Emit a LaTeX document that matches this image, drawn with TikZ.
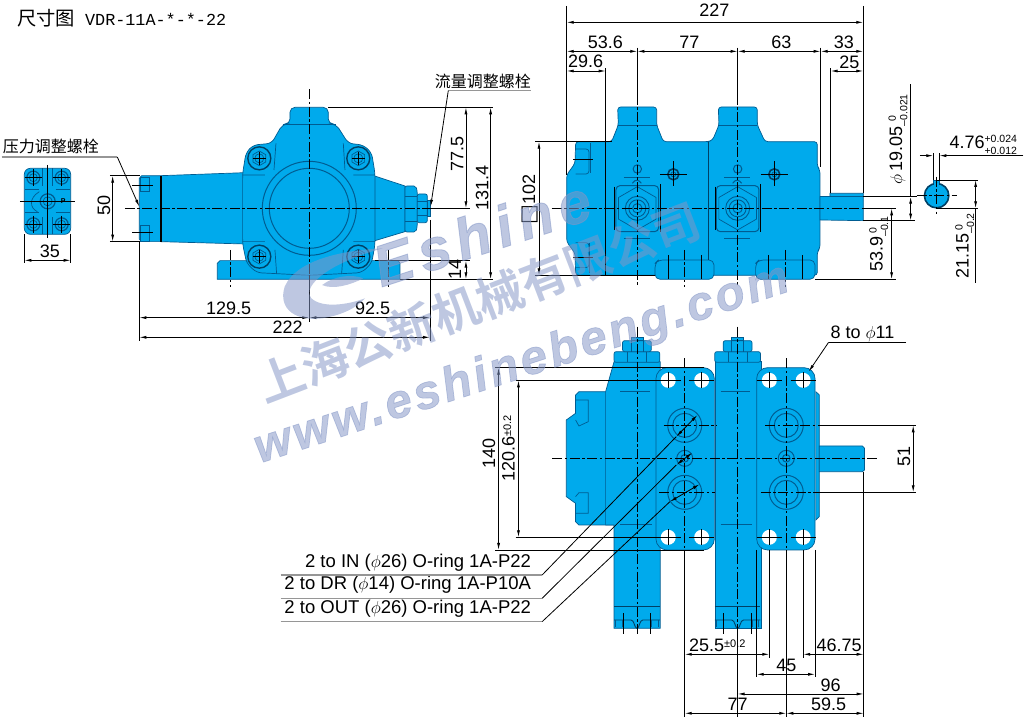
\documentclass[tikz,border=0pt]{standalone}
\usepackage{fontspec}
\setmainfont{Liberation Sans}
\setmonofont{Liberation Mono}
\newfontfamily\cjk{Noto Sans CJK SC}
\newfontfamily\cjkbold{Noto Sans CJK SC Bold}
\newfontfamily\boxglyph{DejaVu Sans}
\usetikzlibrary{arrows.meta}
\usetikzlibrary{calc}
\definecolor{pumpblue}{RGB}{0,170,236}
\definecolor{pumpedge}{RGB}{0,92,145}
\definecolor{leadgray}{RGB}{150,150,150}
\definecolor{stampblue}{RGB}{132,150,198}
\newcommand{\sizedim}{\fontsize{18}{18}\selectfont}
\newcommand{\tolpair}[2]{{\fontsize{10.5}{11.5}\selectfont\begin{tabular}{@{}l@{}}#1\\#2\end{tabular}}}
\newcommand{\tolone}[1]{\raisebox{3.5pt}{\fontsize{11}{11}\selectfont #1}}
\newcommand{\hexnut}[3]{\draw[detail] ($(#1,#2)+(30:#3)$) \foreach \a in {90,150,...,330} {-- ($(#1,#2)+(\a:#3)$)} -- cycle;}
\tikzset{
    >={Latex[length=7pt,width=3pt]},
    pumpbody/.style={fill=pumpblue,draw=pumpedge,line width=.7pt},
    detail/.style={draw=pumpedge,line width=.7pt},
    darkline/.style={draw=pumpedge!70!black,line width=1.1pt},
    extline/.style={black,line width=.8pt},
    dimline/.style={extline,<->},
    centerline/.style={black,line width=.8pt,dash pattern=on 10pt off 2.5pt on 2.5pt off 2.5pt},
    leadline/.style={leadgray,line width=1.3pt},
    dimtext/.style={font=\sizedim,inner sep=0pt},
    porttext/.style={font=\fontsize{18.5}{18.5}\selectfont,inner sep=0pt,anchor=east},
    cntext/.style={font=\fontsize{16}{16}\cjk,inner sep=0pt},
    sideview/.style={x=.3333pt,y=-.3333pt,yshift=-60pt},
    endview/.style={x=.3333pt,y=-.3333pt,xshift=520pt},
    portview/.style={x=.42308pt,y=-.3333pt,xshift=268pt,yshift=-320pt},
    stampview/.style={x=.35714pt,y=-.3333pt,xshift=240pt,yshift=-170pt,opacity=.53}
}
\begin{document}
\begin{tikzpicture}
    \useasboundingbox (0,0) rectangle (1026pt,-720pt);
    \node[anchor=base west,inner sep=0pt] (title) at (17pt,-25pt)
        {\fontsize{19.3}{19.3}\cjk 尺寸图\hspace{10pt}\fontsize{16.8}{16.8}\ttfamily VDR-11A-*-*-22};

    % side view with the two screws
    \begin{scope}[sideview]
        % small end view
        \draw[pumpbody,rounded corners=6pt] (73,325) rectangle (212,523);
        \foreach \bx/\by in {100/353,185/353,100/493,185/493} {
            \draw[detail,line width=1.2pt] (\bx,\by) circle (6.5pt);
            \draw[detail] (\bx,\by) circle (4pt);
            \draw[black,line width=.5pt] (\bx-26,\by) -- (\bx+26,\by) (\bx,\by-26) -- (\bx,\by+26);
        }
        \draw[detail] (75,388) -- (118,388) (167,388) -- (210,388) (75,458) -- (118,458) (167,458) -- (210,458);
        \draw[detail] (128,325) -- (128,378) (158,325) -- (158,378) (128,523) -- (128,470) (158,523) -- (158,470);
        \draw[detail,line width=1.2pt] (143,424) circle (7.5pt);
        \draw[detail] (143,424) circle (4.5pt);
        \draw[detail] (118,395) .. controls (85,415) and (90,445) .. (112,455);
        \node[inner sep=0pt,font=\fontsize{7}{7}\selectfont\bfseries] (portP) at (190,422) {P};
        \draw[extline] (60,424) -- (225,424) (143,315) -- (143,535);
        \draw[extline] (73,523) -- (73,610) (212,523) -- (212,610);
        \draw[dimline] (73,601) -- (212,601);
        \node[dimtext] (dimEnd) at (150,575) {35};

        % pump body
        \draw[pumpbody] (652,658) -- (652,610) -- (660,602) -- (1195,602) -- (1200,610) -- (1200,658) -- cycle;
        \draw[pumpbody] (425,347) -- (483,347) -- (735,338) -- (735,552) -- (483,545) -- (425,545) -- (418,538) -- (418,355) -- cycle;
        \draw[pumpbody] (1115,345) -- (1215,378) -- (1215,515) -- (1115,545) -- cycle;
        \draw[pumpbody,rounded corners=2pt] (1215,378) -- (1248,378) -- (1252,395) -- (1252,498) -- (1248,516) -- (1215,516) -- cycle;
        \draw[pumpbody,rounded corners=2pt] (1252,402) rectangle (1282,488);
        \draw[pumpbody] (1282,420) rectangle (1292,470);
        \draw[detail] (1215,410) -- (1252,410) (1215,485) -- (1252,485) (1252,425) -- (1282,425) (1252,465) -- (1282,465);
        \draw[pumpbody,rounded corners=5pt] (815,250) -- (848,192) -- (870,192) -- (870,142) -- (985,142) -- (985,192) -- (1008,192) -- (1045,250) -- (1090,255) -- (1115,278)
            -- (1125,340) -- (1125,555) -- (1115,610) -- (1085,638) -- (928,646) -- (770,638) -- (740,610) -- (728,552) -- (728,340) -- (738,278) -- (760,255) -- cycle;
        \draw[detail] (828,250) -- (822,330) (1030,250) -- (1035,330) (728,345) -- (795,345) (1060,345) -- (1125,345) (728,545) -- (795,545) (1060,545) -- (1125,545) (825,570) -- (830,642) (1030,570) -- (1025,642);
        \draw[detail] (848,192) -- (1008,192);
        \draw[detail,line width=1pt] (928,445) circle (47pt);
        \draw[detail,line width=1pt] (928,445) circle (40pt);
        \foreach \bx/\by in {778/295,1075/295,778/590,1075/590} {
            \draw[darkline,fill=pumpblue,line width=1.4pt] (\bx,\by) circle (11.5pt);
            \hexnut{\bx}{\by}{22}
            \draw[detail] (\bx,\by) circle (4.5pt);
            \draw[black,line width=.5pt] (\bx-20,\by) -- (\bx+20,\by) (\bx,\by-20) -- (\bx,\by+20);
        }
        \draw[black,line width=1.6pt] (483,347) -- (483,545);
        \draw[detail] (420,352) rectangle (448,395) (420,495) rectangle (448,543);
        \draw[extline] (397,377) -- (458,377) (397,517) -- (458,517);

        % dimensions
        \draw[centerline] (375,445) -- (1292,445);
        \draw[extline] (1292,445) -- (1410,445);
        \draw[centerline] (928,88) -- (928,645);
        \draw[extline] (928,645) -- (928,785);
        \draw[centerline] (690,570) -- (690,682);
        \draw[centerline] (1165,570) -- (1165,682);
        \draw[extline] (330,347) -- (420,347) (330,545) -- (420,545);
        \draw[extline] (985,142) -- (1480,142) (1125,602) -- (1410,602) (1200,658) -- (1480,658);
        \draw[extline] (418,545) -- (418,842) (1290,480) -- (1290,842);
        \draw[dimline] (338,347) -- (338,545);
        \node[dimtext,rotate=90] (dimCap) at (312,437) {50};
        \draw[dimline] (1398,142) -- (1398,445);
        \node[dimtext,rotate=90] (dimTop) at (1372,282) {77.5};
        \draw[dimline] (1472,142) -- (1472,658);
        \node[dimtext,rotate=90] (dimHigh) at (1447,385) {131.4};
        \draw[dimline] (1398,602) -- (1398,658);
        \node[dimtext,rotate=90] (dimFoot) at (1365,628) {14};
        \draw[dimline] (418,773) -- (928,773);
        \node[dimtext] (dimLeft) at (686,745) {129.5};
        \draw[dimline] (928,773) -- (1290,773);
        \node[dimtext] (dimRight) at (1118,745) {92.5};
        \draw[dimline] (418,832) -- (1290,832);
        \node[dimtext] (dimLong) at (863,802) {222};

        % screw labels
        \node[cntext] (labelPress) at (153,258) {压力调整螺栓};
        \coordinate (pressBend) at (352,291);
        \coordinate (pressTip) at (418,440);
        \draw[leadline] (5,291) -- (pressBend);
        \draw[extline,->] (pressBend) -- (pressTip);
        \node[cntext] (labelFlow) at (1449,65) {流量调整螺栓};
        \coordinate (flowBend) at (1345,92);
        \coordinate (flowTip) at (1292,440);
        \draw[leadline] (flowBend) -- (1592,92);
        \draw[extline,->] (flowBend) -- (flowTip);
    \end{scope}

    % view from above
    \begin{scope}[endview]
        \draw[pumpbody,rounded corners=3pt] (140,525) -- (165,490) -- (167,425) -- (275,425) -- (295,375) -- (293,321) -- (410,321) -- (410,375) -- (430,425) -- (565,425) -- (578,420) -- (597,375) -- (595,321) -- (712,321) -- (712,375) -- (735,425) -- (892,425) -- (892,500) -- (900,510) -- (900,745) -- (892,755) -- (892,826) -- (167,826) -- (165,760) -- (140,725) -- cycle;
        \draw[pumpbody] (900,590) -- (930,590) -- (930,580) -- (1030,580) -- (1030,662) -- (900,660) -- cycle;
        \draw[pumpbody,rounded corners=5pt] (405,838) -- (405,790) -- (415,780) -- (582,780) -- (582,838) -- cycle;
        \draw[pumpbody,rounded corners=5pt] (707,838) -- (707,790) -- (717,780) -- (885,780) -- (885,838) -- cycle;
        \draw[detail] (210,430) -- (210,520) (207,728) -- (207,820) (293,375) -- (410,375) (595,375) -- (712,375);
        \draw[detail,rounded corners=3pt] (167,447) -- (207,447) -- (207,522) -- (167,522) (167,728) -- (207,728) -- (207,803) -- (167,803);
        \draw[detail] (900,590) -- (1030,590);
        \draw[extline] (160,478) -- (220,478) (160,772) -- (220,772);
        \draw[darkline,line width=.9pt] (565,425) -- (565,780);
        \foreach \vx/\sx in {352/460,653/763} {
            \draw[detail,line width=1pt,rounded corners=4pt] (\vx-64,557) rectangle (\vx+64,695);
            \hexnut{\vx}{625}{65}
            \draw[detail,line width=.9pt] (\vx,625) circle (12pt);
            \draw[detail,line width=.9pt] (\vx,625) circle (8.5pt);
            \draw[detail,line width=.9pt] (\vx,625) circle (4.7pt);
            \draw[extline] (\vx+68,552) -- (\vx+68,695) (\vx-68,560) -- (\vx-68,690);
            \draw[detail,line width=1pt] (\vx,507) circle (4.2pt);
            \draw[detail,line width=1pt] (\vx-40,533) -- (\vx+38,533) (\vx-40,717) -- (\vx+38,717);
            \draw[detail,line width=1pt] (\vx-15,550) .. controls (\vx-5,535) and (\vx+5,540) .. (\vx+12,550);
            \draw[darkline,line width=1.6pt] (\sx,523) circle (5.5pt);
            \draw[detail] (\sx,523) circle (2.5pt);
            \draw[black,line width=.6pt] (\sx-40,523) -- (\sx+40,523) (\sx,483) -- (\sx,558);
            \draw[extline] (\vx,143) -- (\vx,285);
            \draw[centerline] (\vx,285) -- (\vx,862);
        }
        \foreach \tx in {445,545,745,847} {
            \draw[extline] (\tx,765) -- (\tx,838);
        }
        \foreach \tx in {493,797} {
            \draw[centerline] (\tx,750) -- (\tx,862);
        }
        \draw[centerline] (95,625) -- (1030,625);
        % shaft section
        \draw[pumpbody,fill=pumpblue] (1240,540) rectangle (1258,560);
        \draw[darkline,line width=1.6pt,fill=pumpblue] (1250,587) circle (12.2pt);
        \draw[pumpblue,line width=2pt] (1242,551) -- (1257,551);
        \draw[centerline,line width=.7pt] (1190,587) -- (1310,587);
        \draw[centerline,line width=.7pt] (1250,530) -- (1250,642);

        % dimensions
        \draw[extline] (140,18) -- (140,525) (1030,18) -- (1030,580) (902,143) -- (902,500) (257,205) -- (257,826) (932,205) -- (932,580);
        \draw[dimline] (140,67) -- (1030,67);
        \node[dimtext] (dimWhole) at (583,32) {227};
        \draw[dimline] (140,154) -- (352,154);
        \node[dimtext] (dimFirst) at (256,128) {53.6};
        \draw[dimline] (352,154) -- (653,154);
        \node[dimtext] (dimPitch) at (508,128) {77};
        \draw[dimline] (653,154) -- (902,154);
        \node[dimtext] (dimThird) at (784,128) {63};
        \draw[dimline] (902,154) -- (1030,154);
        \node[dimtext] (dimShaft) at (972,128) {33};
        \draw[dimline] (140,213) -- (257,213);
        \node[dimtext] (dimFlange) at (197,183) {29.6};
        \draw[dimline] (932,213) -- (1030,213);
        \node[dimtext] (dimKey) at (988,187) {25};
        \draw[extline] (45,425) -- (275,425) (45,826) -- (405,826);
        \draw[dimline] (57,425) -- (57,826);
        \node[dimtext,rotate=90] (dimBody) at (29,598) {{\fontsize{21}{21}\boxglyph □}102};
        \draw[extline] (1030,590) -- (1190,590) (1030,662) -- (1185,662) (1030,625) -- (1128,625) (885,838) -- (1128,838);
        \draw[extline] (1172,253) -- (1172,590);
        \draw[dimline] (1172,590) -- (1172,662);
        \node[dimtext,rotate=90] (dimDia) at (1138,418) {$\phi$\,19.05\tolpair{\,\,\,0}{--0.021}};
        \draw[dimline] (1115,625) -- (1115,838);
        \node[dimtext,rotate=90] (dimCenter) at (1080,732) {53.9\tolpair{\,\,0}{--0.1}};
        \draw[extline] (1250,540) -- (1375,540) (1250,625) -- (1375,625) (1367,625) -- (1367,848);
        \draw[dimline] (1367,540) -- (1367,625);
        \node[dimtext,rotate=90] (dimKeyTop) at (1338,738) {21.15\tolpair{\,\,0}{--0.2}};
        \draw[extline] (1240,460) -- (1240,540) (1258,460) -- (1258,540);
        \draw[extline,->] (1200,467) -- (1240,467);
        \draw[extline,->] (1510,467) -- (1258,467);
        \node[dimtext] (dimKeyWide) at (1390,438) {4.76\tolpair{+0.024}{+0.012}};
    \end{scope}

    % view from the ports
    \begin{scope}[portview]
        \draw[pumpbody] (818,215) -- (735,215) -- (727,225) -- (727,280) -- (705,300) -- (705,530) -- (727,550) -- (727,605) -- (735,615) -- (818,615) -- cycle;
        \draw[detail] (727,240) -- (757,240) -- (757,305) -- (735,318) -- (727,300) (727,580) -- (757,580) -- (757,518) -- (735,518) -- (727,530);
        \draw[pumpbody] (818,125) -- (798,215) -- (798,615) -- (818,615) -- (818,925) -- (927,925) -- (927,125) -- cycle;
        \draw[pumpbody] (1057,125) -- (1057,925) -- (1165,925) -- (1165,125) -- cycle;
        \foreach \cx in {872,1110} {
            \draw[pumpbody,rounded corners=2pt] (\cx-54,95) rectangle (\cx+54,127);
            \draw[pumpbody,rounded corners=2pt] (\cx-34,62) rectangle (\cx+34,95);
            \draw[pumpbody] (\cx-14,52) rectangle (\cx+14,62);
            \draw[detail] (\cx-22,95) -- (\cx-22,127) (\cx+22,95) -- (\cx+22,127) (\cx-14,62) -- (\cx-14,95) (\cx+14,62) -- (\cx+14,95);
            \draw[darkline] (\cx-54,860) -- (\cx+54,860);
            \draw[detail,line width=1pt] (\cx-40,216) -- (\cx+30,216) (\cx-40,615) -- (\cx+35,615);
            \draw[darkline,line width=.9pt] (\cx-54,900) -- (\cx-14,900) .. controls (\cx-6,900) and (\cx-6,925) .. (\cx,925) .. controls (\cx+6,925) and (\cx+6,900) .. (\cx+14,900) -- (\cx+54,900);
            \draw[detail] (\cx-50,900) -- (\cx-50,920) (\cx-34,900) -- (\cx-34,920) (\cx+34,900) -- (\cx+34,920) (\cx+50,900) -- (\cx+50,920);
            \draw[extline] (\cx-33,880) -- (\cx-33,942) (\cx+33,880) -- (\cx+33,942);
        }
        \draw[pumpbody] (1295,215) -- (1303,225) -- (1303,590) -- (1295,600) -- cycle;
        \draw[pumpbody] (1303,378) -- (1405,378) -- (1410,385) -- (1410,450) -- (1405,455) -- (1303,455) -- cycle;
        \foreach \px in {917,1155} {
            \draw[pumpbody,rounded corners=11pt] (\px,143) rectangle (\px+138,690);
        }
        \foreach \hx/\hy in {946/181,1025/181,946/652,1025/652,1185/181,1265/181,1185/652,1265/652} {
            \fill[white] (\hx,\hy) circle (7.5pt);
            \draw[extline,line width=.6pt] (\hx-30,\hy) -- (\hx+30,\hy) (\hx,\hy-24) -- (\hx,\hy+24);
        }
        \foreach \px in {985,1225} {
            \foreach \py in {316,517} {
                \draw[detail,line width=1pt] (\px,\py) circle (17pt);
                \draw[detail,line width=1pt] (\px,\py) circle (12pt);
            }
            \draw[detail,line width=1pt] (\px,415) circle (8pt);
            \draw[detail,line width=1pt] (\px,415) circle (3.8pt);
        }

        % center lines and dimensions
        \draw[centerline] (672,415) -- (1440,415);
        \draw[centerline] (935,316) -- (1060,316) (925,517) -- (1057,517) (1175,316) -- (1300,316) (1165,517) -- (1300,517);
        \draw[extline] (1300,316) -- (1532,316) (1300,517) -- (1532,517);
        \draw[centerline] (873,20) -- (873,950);
        \draw[centerline] (1110,20) -- (1110,925);
        \draw[centerline] (985,115) -- (985,690);
        \draw[centerline] (1225,115) -- (1225,690);
        \draw[extline] (985,690) -- (985,1190) (1225,690) -- (1225,1190) (1110,925) -- (1110,1190) (1408,455) -- (1408,1190);
        \draw[extline] (1185,690) -- (1185,1015) (1265,690) -- (1265,1015) (1155,690) -- (1155,1072) (1293,690) -- (1293,1072);
        \draw[dimline] (1525,316) -- (1525,517);
        \node[dimtext,rotate=90] (dimPorts) at (1503,410) {51};
        \draw[extline] (537,143) -- (1030,143) (537,690) -- (1030,690) (585,181) -- (930,181) (585,652) -- (930,652);
        \draw[dimline] (545,143) -- (545,690);
        \node[dimtext,rotate=90] (dimTall) at (522,400) {140};
        \draw[dimline] (592,181) -- (592,652);
        \node[dimtext,rotate=90] (dimHoles) at (568,385) {120.6\tolone{±0.2}};
        \draw[dimline] (985,1003) -- (1185,1003);
        \node[dimtext] (dimGap) at (1062,975) {25.5\tolone{±0.2}};
        \draw[dimline] (1265,1003) -- (1408,1003);
        \node[dimtext] (dimEdge) at (1350,975) {46.75};
        \draw[dimline] (1155,1063) -- (1293,1063);
        \node[dimtext] (dimPlate) at (1225,1037) {45};
        \draw[dimline] (1110,1122) -- (1408,1122);
        \node[dimtext] (dimShaftEnd) at (1330,1097) {96};
        \draw[dimline] (985,1180) -- (1225,1180);
        \node[dimtext] (dimBottom) at (1110,1153) {77};
        \draw[dimline] (1225,1180) -- (1408,1180);
        \node[dimtext] (dimLast) at (1325,1153) {59.5};

        % hole and port labels
        \node[dimtext] (labelHoles) at (1405,42) {8 to $\phi$11};
        \coordinate (holeBend) at (1325,67);
        \draw[extline] (1508,67) -- (holeBend);
        \draw[extline,->] (holeBend) -- (1278,155);
        \node[porttext] (labelIn) at (622,728) {2 to IN ($\phi$26) O-ring 1A-P22};
        \node[porttext] (labelDr) at (622,795) {2 to DR ($\phi$14) O-ring 1A-P10A};
        \node[porttext] (labelOut) at (622,866) {2 to OUT ($\phi$26) O-ring 1A-P22};
        \foreach \ly/\ax/\ay/\bx/\by in {765/965/350/1015/285,835/965/435/1003/398,905/950/545/1020/493} {
            \draw[leadline] (30,\ly) -- (648,\ly);
            \draw[extline] (648,\ly) -- (\ax,\ay);
            \draw[dimline] (\ax,\ay) -- (\bx,\by);
        }
    \end{scope}

    % company stamp over the drawing
    \begin{scope}[stampview]
        \fill[stampblue] (400,235) .. controls (300,240) and (160,265) .. (125,350) .. controls (105,420) and (160,455) .. (230,445)
            .. controls (290,435) and (330,410) .. (350,385) .. controls (300,405) and (230,415) .. (200,385)
            .. controls (170,345) and (260,275) .. (400,235) -- cycle;
        \fill[stampblue] (230,345) .. controls (260,320) and (310,310) .. (345,325) .. controls (310,345) and (260,360) .. (230,345) -- cycle;
        \node[text=stampblue,anchor=base west,inner sep=0pt,rotate=18] (stampName) at (395,352)
            {\fontsize{58}{58}\selectfont\bfseries\itshape\addfontfeature{LetterSpace=12,FakeBold=1.5}Eshine};
        \node[text=stampblue,anchor=base west,inner sep=0pt,rotate=21] (stampCompany) at (70,700)
            {\fontsize{47}{47}\cjkbold 上海公新机械有限公司};
        \node[text=stampblue,anchor=base west,inner sep=0pt,rotate=18] (stampSite) at (55,880)
            {\fontsize{48}{48}\selectfont\bfseries\itshape\addfontfeature{LetterSpace=7,FakeBold=1.5}www.eshinebeng.com};
    \end{scope}
\end{tikzpicture}
\end{document}
